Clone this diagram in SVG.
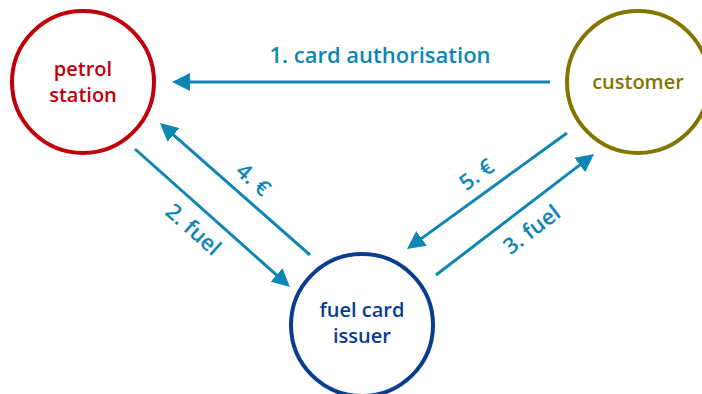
<svg xmlns="http://www.w3.org/2000/svg" width="702" height="394" viewBox="0 0 702 394">
  <style>
    .node { fill: #ffffff; stroke-width: 4; }
    .name { font-family: "Open Sans", "Noto Sans", "DejaVu Sans", sans-serif; font-size: 20px; font-weight: 600; text-anchor: middle; }
    .flow { stroke: #0e86b4; stroke-width: 3; fill: none; marker-end: url(#head); }
    .label { font-family: "Open Sans", "Noto Sans", "DejaVu Sans", sans-serif; font-size: 22px; font-weight: 600; fill: #0e86b4; text-anchor: middle; }
  </style>
  <defs>
    <marker id="head" viewBox="0 0 18 18" refX="8" refY="9" markerWidth="18" markerHeight="18" markerUnits="userSpaceOnUse" orient="auto">
      <path d="M0,0 L18,9 L0,18 z" fill="#0e86b4"/>
    </marker>
  </defs>
  <rect width="702" height="394" fill="#ffffff"/>

  <g id="petrol-station">
    <circle class="node" cx="83" cy="82" r="71" stroke="#c0000b"/>
    <text class="name" x="83" y="76" fill="#c0000b">petrol</text>
    <text class="name" x="83" y="102" fill="#c0000b">station</text>
  </g>

  <g id="customer">
    <circle class="node" cx="638" cy="82" r="71" stroke="#847500"/>
    <text class="name" x="638" y="89" fill="#847500">customer</text>
  </g>

  <g id="fuel-card-issuer">
    <circle class="node" cx="362" cy="325" r="71" stroke="#0a3d8f"/>
    <text class="name" x="362" y="317" fill="#0a3d8f">fuel card</text>
    <text class="name" x="362" y="343" fill="#0a3d8f">issuer</text>
  </g>

  <g id="connectors">
    <line class="flow" x1="550" y1="82" x2="182" y2="82"/>
    <line class="flow" x1="135" y1="149" x2="282.5" y2="280.3"/>
    <line class="flow" x1="310" y1="255" x2="167.5" y2="129.6"/>
    <line class="flow" x1="567" y1="133" x2="415.1" y2="243.1"/>
    <line class="flow" x1="436" y1="275" x2="586.1" y2="160.1"/>

    <text class="label" x="380" y="63">1. card authorisation</text>
    <text class="label" transform="translate(193,230) rotate(41.7)" y="7">2. fuel</text>
    <text class="label" transform="translate(253,180) rotate(41.4)" y="7">4. €</text>
    <text class="label" transform="translate(477,175) rotate(-36)" y="7">5. €</text>
    <text class="label" transform="translate(532,230) rotate(-37.4)" y="7">3. fuel</text>
  </g>
</svg>
